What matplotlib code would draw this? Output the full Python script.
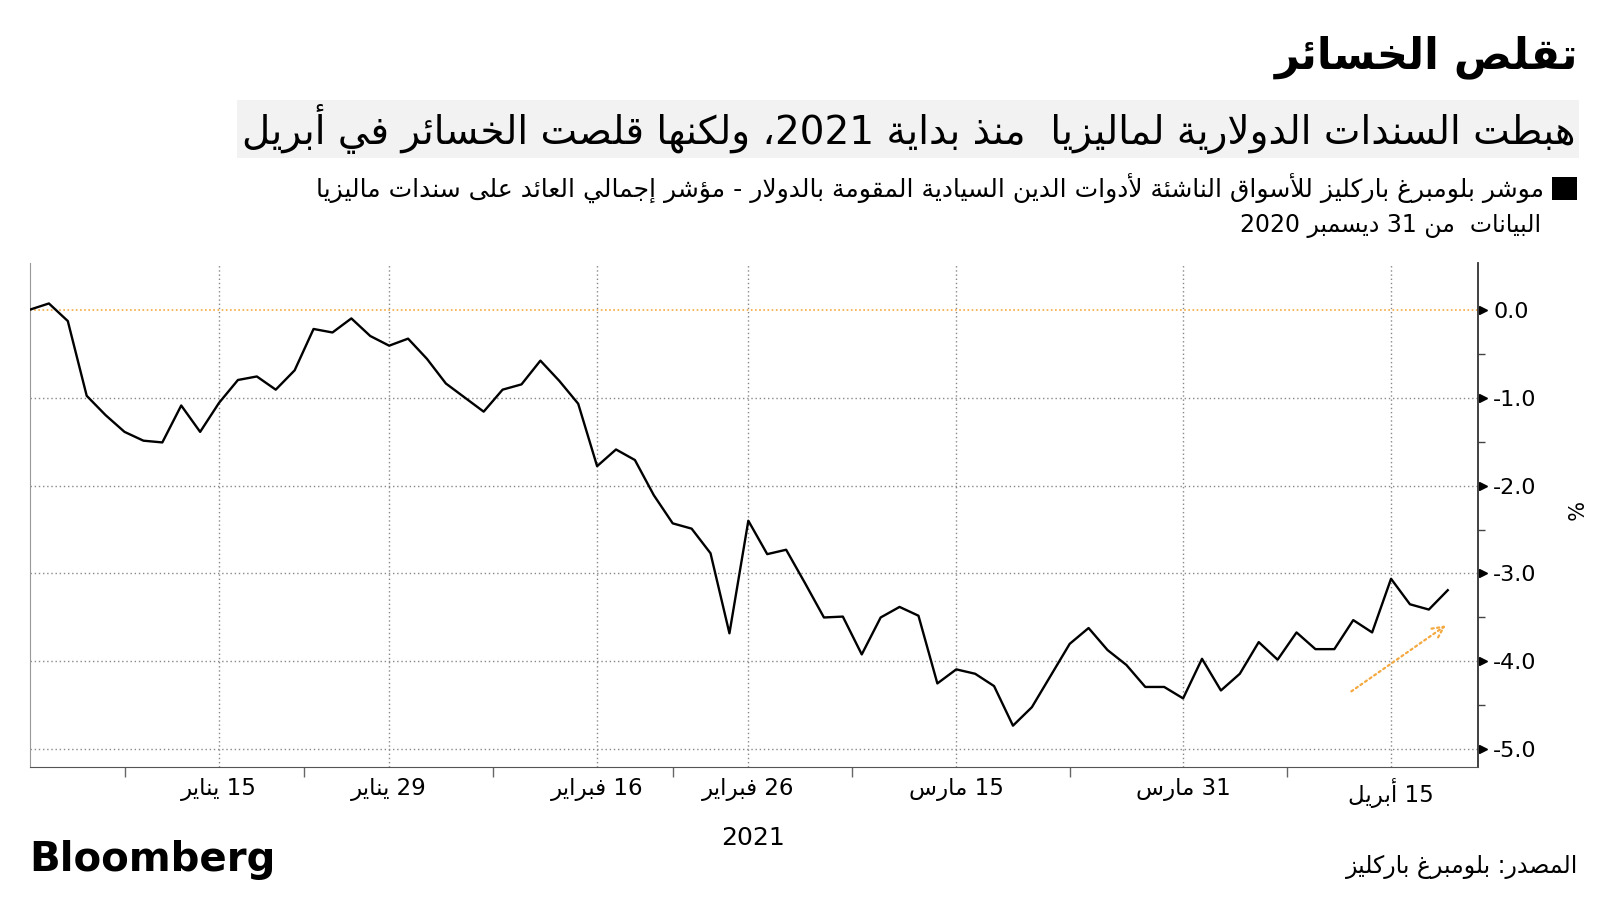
import re
import matplotlib
matplotlib.use("Agg")
import matplotlib.pyplot as plt
import pandas as pd
from matplotlib.patches import Patch

# ---- data ----
holidays = ["2021-01-01", "2021-01-18", "2021-02-15"]
dates = pd.bdate_range("2020-12-31", "2021-04-20", freq="C", holidays=holidays)
values = [0.00, 0.07, -0.13, -0.98, -1.20, -1.39, -1.49, -1.51, -1.09, -1.39,
          -1.06, -0.80, -0.76, -0.91, -0.69, -0.22, -0.26, -0.10, -0.30, -0.41,
          -0.33, -0.56, -0.84, -1.00, -1.16, -0.91, -0.85, -0.58, -0.81, -1.07,
          -1.78, -1.59, -1.71, -2.11, -2.43, -2.49, -2.77, -3.68, -2.40, -2.78,
          -2.73, -3.11, -3.50, -3.49, -3.92, -3.50, -3.38, -3.48, -4.25, -4.09,
          -4.14, -4.28, -4.73, -4.52, -4.16, -3.80, -3.62, -3.87, -4.04, -4.29,
          -4.29, -4.42, -3.97, -4.33, -4.14, -3.78, -3.98, -3.67, -3.86, -3.86,
          -3.53, -3.67, -3.06, -3.35, -3.41, -3.19]
tick_dates = ["2021-01-15", "2021-01-29", "2021-02-16", "2021-02-26",
              "2021-03-15", "2021-03-31", "2021-04-15"]
tick_labels = ["15 يناير", "29 يناير", "16 فبراير", "26 فبراير",
               "15 مارس", "31 مارس", "15 أبريل"]
y_ticks = [0.0, -1.0, -2.0, -3.0, -4.0, -5.0]
arrow_from = (69.9, -4.34)
arrow_to = (74.9, -3.59)

title = "تقلص الخسائر"
subtitle = "هبطت السندات الدولارية لماليزيا  منذ بداية 2021، ولكنها قلصت الخسائر في أبريل"
legend_text = ("موشر بلومبرغ باركليز للأسواق الناشئة لأدوات الدين السيادية المقومة بالدولار"
               " - مؤشر إجمالي العائد على سندات ماليزيا")
note = "البيانات  من 31 ديسمبر 2020"
source = "المصدر: بلومبرغ باركليز"

# ---- minimal arabic shaping (matplotlib has no bidi / joining) ----
DUAL = {'ئ': 0xFE89, 'ب': 0xFE8F, 'ت': 0xFE95, 'ث': 0xFE99, 'ج': 0xFE9D, 'ح': 0xFEA1,
        'خ': 0xFEA5, 'س': 0xFEB1, 'ش': 0xFEB5, 'ص': 0xFEB9, 'ض': 0xFEBD, 'ط': 0xFEC1,
        'ظ': 0xFEC5, 'ع': 0xFEC9, 'غ': 0xFECD, 'ف': 0xFED1, 'ق': 0xFED5, 'ك': 0xFED9,
        'ل': 0xFEDD, 'م': 0xFEE1, 'ن': 0xFEE5, 'ه': 0xFEE9, 'ي': 0xFEF1}
RIGHT = {'آ': 0xFE81, 'أ': 0xFE83, 'ؤ': 0xFE85, 'إ': 0xFE87, 'ا': 0xFE8D, 'ة': 0xFE93,
         'د': 0xFEA9, 'ذ': 0xFEAB, 'ر': 0xFEAD, 'ز': 0xFEAF, 'و': 0xFEED, 'ى': 0xFEEF}
LAMALEF = {'آ': 0xFEF5, 'أ': 0xFEF7, 'إ': 0xFEF9, 'ا': 0xFEFB}


def shape(s):
    out = []
    i = 0
    n = len(s)
    while i < n:
        c = s[i]
        cp = i > 0 and s[i - 1] in DUAL
        if c == 'ل' and i + 1 < n and s[i + 1] in LAMALEF:
            out.append(chr(LAMALEF[s[i + 1]] + (1 if cp else 0)))
            i += 2
            continue
        if c in DUAL:
            cn = i + 1 < n and (s[i + 1] in DUAL or s[i + 1] in RIGHT)
            form = 3 if (cp and cn) else 1 if cp else 2 if cn else 0
            out.append(chr(DUAL[c] + form))
        elif c in RIGHT:
            out.append(chr(RIGHT[c] + (1 if cp else 0)))
        else:
            out.append(c)
        i += 1
    return ''.join(out)


def ar(s):
    parts = re.findall(r'[0-9A-Za-z.]+|[^0-9A-Za-z.]+', shape(s))
    return ''.join(p if re.match(r'[0-9A-Za-z]', p) else p[::-1] for p in reversed(parts))


plt.rcParams['font.family'] = ['DejaVu Sans']
plt.rcParams['axes.unicode_minus'] = False

W, H = 1600, 900
fig = plt.figure(figsize=(16, 9), dpi=100)
ax = fig.add_axes([30 / W, 1 - 767 / H, (1478 - 30) / W, (767 - 263) / H])

x = list(range(len(dates)))
ax.plot(x, values, color='black', lw=1.7, zorder=5)

tick_pos = [dates.get_loc(pd.Timestamp(d)) for d in tick_dates]
edges = [0] + tick_pos
minor_pos = [(a + b) / 2 for a, b in zip(edges[:-1], edges[1:])]

ax.set_xlim(0, 76.6)
ax.set_ylim(-5.2, 0.53)

ax.set_xticks(tick_pos)
ax.set_xticklabels([ar(t) for t in tick_labels], fontsize=16.5)
ax.set_xticks(minor_pos, minor=True)
ax.tick_params(axis='x', which='major', length=0, pad=8)
ax.tick_params(axis='x', which='minor', length=7, color='#666666', width=1)

ax.yaxis.tick_right()
ax.set_yticks(y_ticks)
ax.set_yticklabels([f"{v:.1f}" for v in y_ticks], fontsize=16)
ax.set_yticks([-0.5, -1.5, -2.5, -3.5, -4.5], minor=True)
ax.tick_params(axis='y', which='major', length=0, pad=11)
ax.tick_params(axis='y', which='minor', length=5, color='#444444', width=1)
ax.plot([1.0035] * len(y_ticks), y_ticks, marker='>', ms=6, color='black', ls='none',
        transform=ax.get_yaxis_transform(), clip_on=False)
ax.set_ylabel('%', fontsize=15, rotation=270)
ax.yaxis.set_label_coords((1562 - 30) / 1448, (767 - 512) / 504)

# grid
ax.grid(axis='x', color='#888888', ls=(0, (1, 2)), lw=1)
for v in y_ticks:
    if v != 0:
        ax.axhline(v, color='#888888', ls=(0, (1, 2)), lw=1, zorder=1)
ax.axhline(0, color='#f4a940', ls=(0, (1, 1.5)), lw=1.2, zorder=2)

ax.annotate('', xy=arrow_to, xytext=arrow_from,
            arrowprops=dict(arrowstyle='->', color='#f4a940', lw=1.6,
                            ls=(0, (1, 1.5)), shrinkA=0, shrinkB=0,
                            mutation_scale=20))

ax.spines['top'].set_visible(False)
ax.spines['left'].set_color('#999999')
ax.spines['bottom'].set_color('#555555')
ax.spines['right'].set_color('#333333')
ax.spines['right'].set_linewidth(1.3)

# texts
fig.text(1578 / W, 1 - 57 / H, ar(title), ha='right', va='center',
         fontsize=31, fontweight='bold')
fig.text(1575 / W, 1 - 129 / H, ar(subtitle), ha='right', va='center', fontsize=28,
         bbox=dict(facecolor='#f2f2f2', edgecolor='none', pad=3))
fig.legend(handles=[Patch(facecolor='black')], labels=[ar(legend_text)],
           loc='center right', bbox_to_anchor=(1577 / W, 1 - 188 / H),
           markerfirst=False, frameon=False, fontsize=18,
           borderaxespad=0, borderpad=0,
           handlelength=1.0, handleheight=1.0, handletextpad=0.3)
fig.text(1541 / W, 1 - 226 / H, ar(note), ha='right', va='center', fontsize=17)
fig.text(753 / W, 1 - 838 / H, '2021', ha='center', va='center', fontsize=18)
fig.text(29 / W, 1 - 860 / H, 'Bloomberg', ha='left', va='center',
         fontsize=29, fontweight='bold')
fig.text(1578 / W, 1 - 867 / H, ar(source), ha='right', va='center', fontsize=17)

fig.savefig('out.png', dpi=100)
